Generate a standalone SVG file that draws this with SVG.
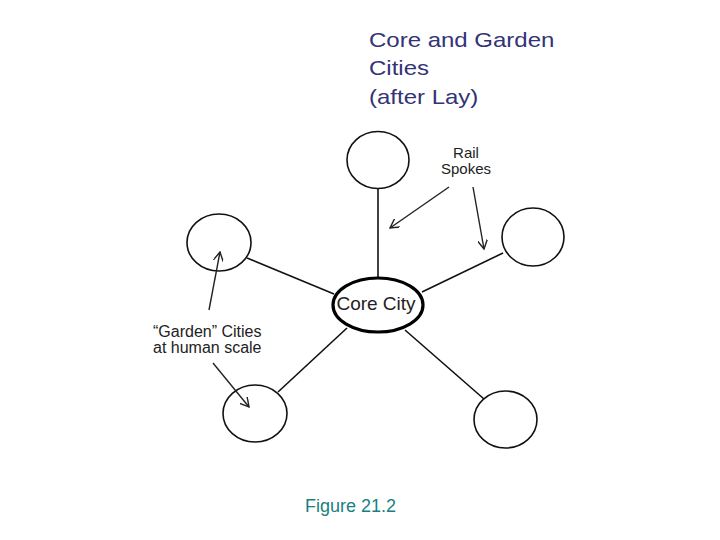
<svg xmlns="http://www.w3.org/2000/svg" width="720" height="540" viewBox="0 0 720 540">
<style>
.town{fill:#fff;stroke:#111;stroke-width:1.6}
.core{fill:#fff;stroke:#000;stroke-width:3.2}
.spoke{stroke:#111;stroke-width:1.6;fill:none}
.ptr{stroke:#222;stroke-width:1.4;fill:none;marker-end:url(#v)}
.lbl{font-family:"Liberation Sans",Arial,sans-serif;fill:#222}
.title{font-family:"Liberation Sans",Arial,sans-serif;font-size:20px;fill:#333377}
</style>
<defs>
<marker id="v" viewBox="0 0 10 10" refX="9" refY="5" markerWidth="10" markerHeight="10" markerUnits="userSpaceOnUse" orient="auto">
<path d="M0,0 L9,5 L0,10" fill="none" stroke="#222" stroke-width="1.4"/>
</marker>
</defs>
<rect width="720" height="540" fill="#fff"/>
<g id="title" transform="translate(369,0) scale(1.2,1)">
<text class="title" x="0" y="47">Core and Garden</text>
<text class="title" x="0" y="75.5">Cities</text>
<text class="title" x="0" y="104">(after Lay)</text>
</g>
<g id="spokes">
<line class="spoke" x1="378" y1="189" x2="378" y2="277"/>
<line class="spoke" x1="247" y1="258" x2="334" y2="294"/>
<line class="spoke" x1="422" y1="292" x2="503" y2="253"/>
<line class="spoke" x1="347" y1="328" x2="278" y2="392"/>
<line class="spoke" x1="405" y1="330" x2="484" y2="399"/>
</g>
<g id="top"><ellipse class="town" cx="378" cy="160" rx="31" ry="28.5"/></g>
<g id="right"><ellipse class="town" cx="533" cy="237" rx="31" ry="29"/></g>
<g id="left-top"><ellipse class="town" cx="219" cy="242.5" rx="32" ry="28.5"/></g>
<g id="bottom-left"><ellipse class="town" cx="255" cy="413.5" rx="32" ry="28.5"/></g>
<g id="bottom-right"><ellipse class="town" cx="505.5" cy="419.5" rx="31.5" ry="28.5"/></g>
<g id="core">
<ellipse class="core" cx="378" cy="305" rx="45" ry="27"/>
<text class="lbl" x="376" y="310" font-size="19" text-anchor="middle" fill="#000">Core City</text>
</g>
<g id="connectors">
<line class="ptr" x1="449" y1="187" x2="390" y2="228"/>
<line class="ptr" x1="473" y1="187" x2="484" y2="249"/>
<line class="ptr" x1="209" y1="310" x2="220" y2="252"/>
<line class="ptr" x1="213" y1="363" x2="249" y2="407"/>
</g>
<g id="rail-label">
<text class="lbl" x="466" y="158" font-size="15" text-anchor="middle">Rail</text>
<text class="lbl" x="466" y="174" font-size="15" text-anchor="middle">Spokes</text>
</g>
<g id="garden-label">
<text class="lbl" x="153" y="337" font-size="16">“Garden” Cities</text>
<text class="lbl" x="153" y="353" font-size="16">at human scale</text>
</g>
<g id="caption">
<text x="305" y="512" font-family="'Liberation Sans',Arial,sans-serif" font-size="18" fill="#1a7f80" textLength="91">Figure 21.2</text>
</g>
</svg>
